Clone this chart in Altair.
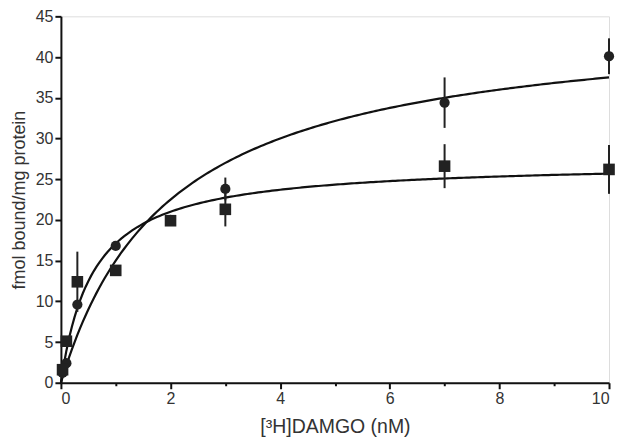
import altair as alt
import pandas as pd

# Concentrations (nM)
conc = [0.03, 0.1, 0.3, 1, 2, 3, 7, 10]
# Circles series (mean, error)
circ_y = [1.2, 2.4, 9.6, 16.8, 20.0, 23.8, 34.4, 40.1]
circ_err = [0, 0, 0, 0, 0.4, 1.4, 3.1, 2.2]
# Squares series (mean, error)
sq_y = [1.6, 5.1, 12.4, 13.8, 19.9, 21.3, 26.6, 26.2]
sq_err = [0, 0, 3.7, 0, 0.4, 2.1, 2.7, 3.0]
# One-site binding fits (Bmax, Kd)
series = ["circle", "square"]
bmax = [45.0, 27.2]
kd = [2.0, 0.59]

rows = []
for i, x in enumerate(conc):
    rows.append({"x": x, "y": circ_y[i], "lo": circ_y[i] - circ_err[i], "hi": circ_y[i] + circ_err[i], "s": "circle"})
    rows.append({"x": x, "y": sq_y[i], "lo": sq_y[i] - sq_err[i], "hi": sq_y[i] + sq_err[i], "s": "square"})
df = pd.DataFrame(rows)

xs = alt.Scale(domain=[0, 10], nice=False)
ys = alt.Scale(domain=[0, 45], nice=False)

FONT = "Liberation Sans"
xaxis = alt.Axis(
    values=list(range(0, 11)),
    labelExpr="datum.value % 2 == 0 ? datum.label : ''",
    title="[³H]DAMGO (nM)",
    tickSize={"condition": {"test": "datum.value % 2 == 1", "value": 3}, "value": 6},
    labelPadding=2, titlePadding=11,
    domainColor="#111", tickColor="#111", domainWidth=2, tickWidth=2,
    labelFont=FONT, titleFont=FONT, labelFontSize=16, titleFontSize=19.5,
    labelColor="#333", titleColor="#333", titleFontWeight="normal", grid=False,
)
yaxis = alt.Axis(
    values=list(range(0, 50, 5)),
    title="fmol bound/mg protein",
    tickSize=6, labelPadding=2, titlePadding=7,
    domainColor="#111", tickColor="#111", domainWidth=2, tickWidth=2,
    labelFont=FONT, titleFont=FONT, labelFontSize=16, titleFontSize=18,
    labelColor="#333", titleColor="#333", titleFontWeight="normal", grid=False,
)

seq = alt.sequence(0, 10.001, 0.05, as_="x")
curve = alt.Chart(seq).transform_calculate(
    c=f"{bmax[0]} * datum.x / (datum.x + {kd[0]})",
    q=f"{bmax[1]} * datum.x / (datum.x + {kd[1]})",
).transform_fold(["c", "q"], as_=["s", "y"]).mark_line(color="#111", strokeWidth=2.2).encode(
    x=alt.X("x:Q", scale=xs, axis=xaxis),
    y=alt.Y("y:Q", scale=ys, axis=yaxis),
    detail="s:N",
)

err = alt.Chart(df).mark_rule(color="#222", strokeWidth=2).encode(
    x=alt.X("x:Q", scale=xs), y=alt.Y("lo:Q", scale=ys), y2="hi:Q"
)
circ = alt.Chart(df).transform_filter("datum.s == 'circle'").mark_point(
    shape="circle", filled=True, size=105, color="#222", opacity=1
).encode(x=alt.X("x:Q", scale=xs), y=alt.Y("y:Q", scale=ys))
sq = alt.Chart(df).transform_filter("datum.s == 'square'").mark_point(
    shape="square", filled=True, size=135, color="#222", opacity=1
).encode(x=alt.X("x:Q", scale=xs), y=alt.Y("y:Q", scale=ys))

chart = alt.layer(curve, err, circ, sq).properties(
    width=549, height=367,
    autosize=alt.AutoSizeParams(type="none"),
    padding={"left": 53, "top": 8, "right": 10, "bottom": 62},
).configure_view(stroke=None).configure(background="white")

chart.save("out.html", embed_options={"renderer": "svg", "actions": False})
